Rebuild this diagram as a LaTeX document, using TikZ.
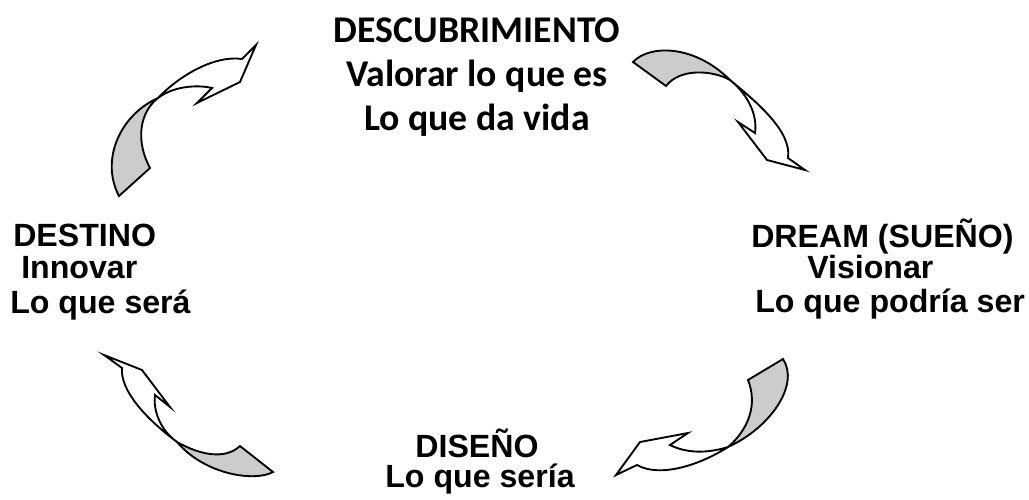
\documentclass[tikz,border=0pt]{standalone}
\usepackage{fontspec}
\setmainfont{Liberation Sans}
\newfontfamily\calibri{Carlito}
\usepackage{xcolor}
\usepackage{tikz}

\begin{document}
\begin{tikzpicture}[x=0.75pt, y=-0.75pt,
    arialbl/.style={inner sep=0pt, font=\fontsize{24.1}{29}\selectfont\bfseries},
    calibrilbl/.style={inner sep=0pt, anchor=base, font=\calibri\fontsize{28.3}{34}\selectfont\bfseries},
    cycarrow/.style={draw, line width=1.4pt, line join=miter, miter limit=20},
    backface/.style={cycarrow, fill=black!20},
    frontface/.style={cycarrow, fill=white}]
    \useasboundingbox (0,0) rectangle (1029,500);

    % Discovery (top)
    \node[calibrilbl] (d1) at (477,42) {DESCUBRIMIENTO};
    \node[calibrilbl] (d2) at (477,86) {Valorar lo que es};
    \node[calibrilbl] (d3) at (477,130) {Lo que da vida};

    % Dream (right)
    \node[arialbl, anchor=base west] (s1) at (751,247) {DREAM (SUEÑO)};
    \node[arialbl, anchor=base west] (s2) at (807,278) {Visionar};
    \node[arialbl, anchor=base west] (s3) at (755,312) {Lo que podría ser};

    % Design (bottom)
    \node[arialbl, anchor=base] (e1) at (477,457) {DISEÑO};
    \node[arialbl, anchor=base] (e2) at (480,487) {Lo que sería};

    % Destiny (left)
    \node[arialbl, anchor=base west] (t1) at (13,246) {DESTINO};
    \node[arialbl, anchor=base west] (t2) at (21,278) {Innovar};
    \node[arialbl, anchor=base west] (t3) at (10,313) {Lo que será};

    % Arrow top right
    \coordinate (trx) at (730,80);
    \draw[backface] (633,62) .. controls (650,44) and (695,45) .. (trx)
        .. controls (712,70) and (680,68) .. (666,86) -- cycle;
    \draw[frontface] (trx) .. controls (758,103) and (792,132) .. (788,158)
        -- (805,170) -- (767,160) -- (738,122) -- (755,133)
        .. controls (758,112) and (745,92) .. (trx);

    % Arrow bottom right
    \coordinate (brx) at (728,447);
    \draw[backface] (783,359) .. controls (800,385) and (770,428) .. (brx)
        .. controls (748,430) and (758,405) .. (748,380) -- cycle;
    \draw[frontface] (brx) .. controls (700,465) and (660,478) .. (637,465)
        -- (616,475) -- (640,442) -- (688,433) -- (670,445)
        .. controls (690,455) and (712,452) .. (brx);

    % Arrow bottom left
    \coordinate (blx) at (177,442);
    \draw[backface] (273,472) .. controls (255,482) and (205,475) .. (blx)
        .. controls (200,455) and (225,460) .. (240,446) -- cycle;
    \draw[frontface] (blx) .. controls (145,418) and (120,390) .. (122,368)
        -- (104,355) -- (142,370) -- (170,407) -- (155,395)
        .. controls (153,410) and (160,430) .. (blx);

    % Arrow top left
    \coordinate (tlx) at (158,98);
    \draw[backface] (119,196) .. controls (100,160) and (120,115) .. (tlx)
        .. controls (140,112) and (135,140) .. (150,168) -- cycle;
    \draw[frontface] (tlx) .. controls (180,75) and (215,55) .. (242,59)
        -- (256,45) -- (240,82) -- (197,103) -- (212,88)
        .. controls (200,85) and (175,85) .. (tlx);
\end{tikzpicture}
\end{document}
